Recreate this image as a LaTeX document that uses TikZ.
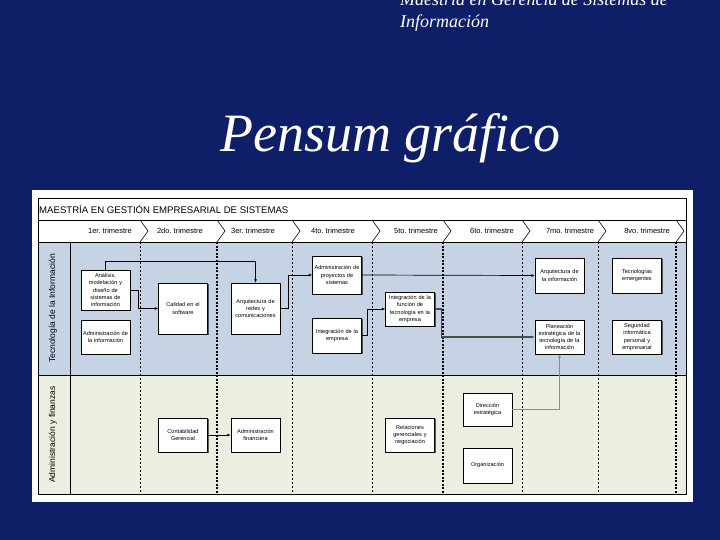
\documentclass[tikz,border=0pt]{standalone}
\usepackage{fontspec}
\setmainfont{Liberation Serif}
\setsansfont{Liberation Sans}
\usetikzlibrary{arrows.meta, shadows}
\definecolor{fondo}{RGB}{14,31,104}
\definecolor{carrilti}{RGB}{197,211,229}
\definecolor{carrilaf}{RGB}{236,239,223}

\begin{document}
\begin{tikzpicture}[x=1pt, y=-1pt, >={Latex[length=3.5pt,width=3pt]},
		materia/.style={rectangle, draw, fill=white, line width=0.5pt, minimum width=49pt, text width=47pt, align=center, inner sep=1pt, font=\sffamily\fontsize{5.6}{7.2}\selectfont, drop shadow={shadow xshift=1.2pt, shadow yshift=-1.2pt, fill=black, opacity=0.6}},
		linea/.style={draw, ->, line width=0.7pt},
		divfina/.style={dash pattern=on 2pt off 2pt, line width=0.6pt},
		divgruesa/.style={dash pattern=on 2pt off 1.5pt, line width=1.3pt},
		trim/.style={font=\sffamily\fontsize{7.5}{8}\selectfont, inner sep=0pt},
		carril/.style={rotate=90, font=\sffamily\fontsize{8.5}{9}\selectfont, inner sep=0pt}]
		
		\useasboundingbox (0,0) rectangle (720,540);
		\fill[fondo] (0,0) rectangle (720,540);
		
		% Titulos
		\node[anchor=base west, text=white, font=\itshape\fontsize{18}{22}\selectfont, inner sep=0pt] (titulo1) at (400,6) {Maestría en Gerencia de Sistemas de};
		\node[anchor=base west, text=white, font=\itshape\fontsize{18}{22}\selectfont, inner sep=0pt] (titulo2) at (400,28) {Información};
		\node[anchor=base west, text=white, font=\itshape\fontsize{54}{60}\selectfont, inner sep=0pt] (pensum) at (220,152) {Pensum gráfico};
		
		% Hoja y carriles
		\fill[white] (31.5,190) rectangle (693,502);
		\fill[carrilti] (38,242) rectangle (686,375);
		\fill[carrilaf] (38,375) rectangle (686,494);
		\draw[line width=0.6pt] (38,198) rectangle (686,494);
		\draw[line width=0.6pt] (38,220) -- (686,220);
		\draw[line width=0.6pt] (38,242) -- (686,242);
		\draw[line width=0.6pt] (38,375) -- (686,375);
		\draw[line width=0.6pt] (70,242) -- (70,494);
		\node[anchor=west, font=\sffamily\fontsize{9.6}{10}\selectfont, inner sep=1pt] (maestria) at (38,209) {MAESTRÍA EN GESTIÓN EMPRESARIAL DE SISTEMAS};
		
		% Trimestres
		\foreach \x in {140,217,292,372,443,522,598,676}
		\draw[line width=0.6pt] (\x,220) -- (\x+8,231) -- (\x,242);
		\foreach \x in {140,292,372,522,598}
		\draw[divfina] (\x,242) -- (\x,494);
		\foreach \x in {217,443,676}
		\draw[divgruesa] (\x,242) -- (\x,494);
		\foreach \x/\t in {110/1er., 180/2do., 253/3er., 333/4to., 416/5to., 492/6to., 570/7mo., 647/8vo.}
		\node[trim] (t\x) at (\x,231) {\t\ trimestre};
		
		\node[carril] (ti) at (53,308.5) {Tecnología de la Información};
		\node[carril] (af) at (53,434.5) {Administración y finanzas};
		
		% Materias
		\node[materia, minimum height=40pt] (anal) at (105.5,290) {Análisis,\\modelación y\\diseño de\\sistemas de\\información};
		\node[materia, minimum height=34pt] (admininf) at (105.5,337) {Administración de\\la información};
		\node[materia, minimum height=51pt] (calidad) at (183,308.5) {Calidad en el\\software};
		\node[materia, minimum height=51pt] (redes) at (255.5,308.5) {Arquitectura de\\redes y\\comunicaciones};
		\node[materia, minimum height=38pt] (proy) at (337,275) {Administración de\\proyectos de\\sistemas};
		\node[materia, minimum height=35pt] (integemp) at (337,335.5) {Integración de la\\empresa};
		\node[materia, minimum height=34pt] (integfun) at (410,309) {Integración de la\\función de\\tecnología en la\\empresa};
		\node[materia, minimum height=35pt] (arqinfo) at (559.5,275.5) {Arquitectura de\\la información};
		\node[materia, minimum height=34pt] (plan) at (559.5,337) {Planeación\\estratégica de la\\tecnología de la\\información};
		\node[materia, minimum height=35pt] (emerg) at (637,275.5) {Tecnologías\\emergentes};
		\node[materia, minimum height=34pt] (segur) at (637,337) {Seguridad\\informática\\personal y\\empresarial};
		\node[materia, minimum height=34pt] (conta) at (183,435) {Contabilidad\\Gerencial};
		\node[materia, minimum height=34pt] (finan) at (255.5,435) {Administración\\financiera};
		\node[materia, minimum height=34pt] (relac) at (410,435) {Relaciones\\gerenciales y\\negociación};
		\node[materia, minimum height=33pt] (direc) at (487.5,409.5) {Dirección\\estratégica};
		\node[materia, minimum height=35pt] (organ) at (487.5,465.5) {Organización};
		
		% Prerrequisitos
		\path[linea] (anal.north) -- ++(0,-8) -| (redes.north);
		\path[linea] (anal.east) -- ++(8,0) |- (calidad.west);
		\path[linea] (redes.east) -- ++(8,0) |- (proy.west);
		\path[linea] (proy.east) -- (arqinfo.west);
		\path[linea] (integemp.east) -- ++(6,0) |- (integfun.west);
		\path[linea, line width=1.3pt, black!70] (integfun.east) -- ++(7,0) |- (plan.west);
		\path[linea, line width=0.6pt, black!45] (direc.east) -| (plan.south);
		\path[linea] (conta) -- (finan);
		
	\end{tikzpicture}
\end{document}
